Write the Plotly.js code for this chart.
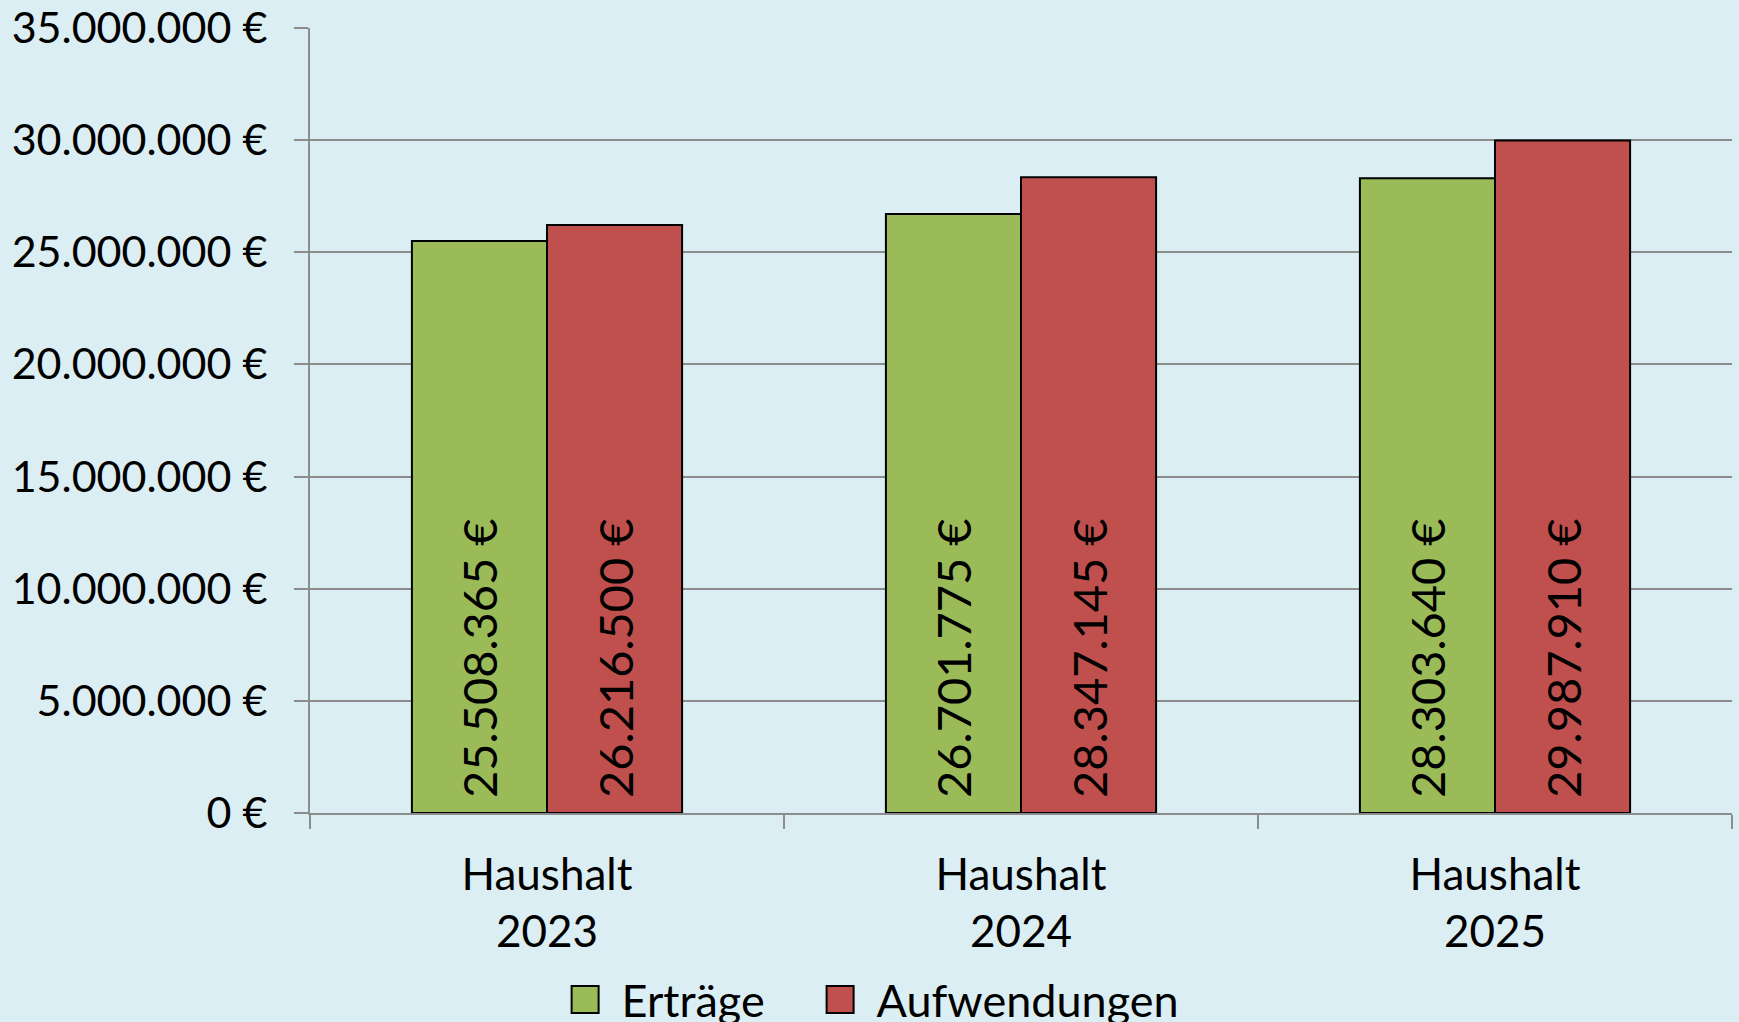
<!DOCTYPE html>
<html>
<head>
<meta charset="utf-8">
<script src="https://cdn.plot.ly/plotly-3.0.1.min.js"></script>
<style>
  html, body { margin: 0; padding: 0; background: #dbeef3; }
  #chart { width: 1739px; height: 1022px; }
</style>
</head>
<body>
<div id="chart"></div>
<script>
// Data
const categories = ["Haushalt<br>2023", "Haushalt<br>2024", "Haushalt<br>2025"];
const seriesNames = ["Erträge", "Aufwendungen"];
const ertraege = [25508365, 26701775, 28303640];
const aufwendungen = [26216500, 28347145, 29987910];
const yTickVals = [0, 5000000, 10000000, 15000000, 20000000, 25000000, 30000000, 35000000];

function euro(v) {
  return String(v).replace(/\B(?=(\d{3})+(?!\d))/g, ".") + " €";
}
const yTickText = yTickVals.map(euro);

const FONT = "Lato, 'Open Sans', sans-serif";
const labelFont = { family: FONT, size: 47, color: "#000000" };

function barTrace(name, values, color, legendWidth) {
  const t = {
    type: "bar",
    name: name,
    x: categories,
    y: values,
    marker: { color: color, line: { color: "#000000", width: 2 } },
    texttemplate: "\u00a0%{y:,d} €",
    textposition: "inside",
    insidetextanchor: "start",
    textangle: -90,
    textfont: labelFont,
    constraintext: "none",
    hoverinfo: "skip"
  };
  if (legendWidth) t.legendwidth = legendWidth;
  return t;
}

const data = [
  barTrace(seriesNames[0], ertraege, "#9bbb59", 177),
  barTrace(seriesNames[1], aufwendungen, "#c0504d")
];

const layout = {
  width: 1739,
  height: 1022,
  paper_bgcolor: "#dbeef3",
  plot_bgcolor: "#dbeef3",
  separators: ",.",
  font: { family: FONT, size: 42, color: "#000000" },
  margin: { l: 310, r: 7, t: 28, b: 209, autoexpand: false },
  barmode: "group",
  bargap: 0.43,
  bargroupgap: 0,
  showlegend: true,
  legend: {
    orientation: "h",
    x: 0.1678,
    xanchor: "left",
    y: -0.238,
    yanchor: "middle",
    bgcolor: "rgba(0,0,0,0)",
    itemwidth: 63,
    font: { family: FONT, size: 45, color: "#000000" },
    traceorder: "normal"
  },
  xaxis: {
    type: "category",
    tickson: "boundaries",
    ticks: "outside",
    ticklen: 14,
    tickwidth: 2,
    tickcolor: "#8c8c8c",
    showline: true,
    linecolor: "#8c8c8c",
    linewidth: 2,
    showgrid: false,
    tickfont: { family: FONT, size: 44, color: "#000000" },
    ticklabelstandoff: 22
  },
  yaxis: {
    range: [0, 35000000],
    tickmode: "array",
    tickvals: yTickVals,
    ticktext: yTickText,
    ticks: "outside",
    ticklen: 14,
    tickwidth: 2,
    tickcolor: "#8c8c8c",
    showline: true,
    linecolor: "#8c8c8c",
    linewidth: 2,
    showgrid: true,
    gridcolor: "#8c8c8c",
    gridwidth: 2,
    zeroline: false,
    tickfont: { family: FONT, size: 43, color: "#000000" },
    ticklabelstandoff: 18
  }
};

function enlargeLegendSymbols(gd) {
  // Enlarge the library-drawn legend squares to match the reference size
  gd.querySelectorAll(".legend .legendpoints path").forEach(function (p) {
    p.setAttribute("d", "M13.5,13.5H-13.5V-13.5H13.5Z");
  });
}

const gd = document.getElementById("chart");
Plotly.newPlot(gd, data, layout, { displayModeBar: false, staticPlot: true }).then(function () {
  enlargeLegendSymbols(gd);
  gd.on("plotly_afterplot", function () { enlargeLegendSymbols(gd); });
});
</script>
</body>
</html>
